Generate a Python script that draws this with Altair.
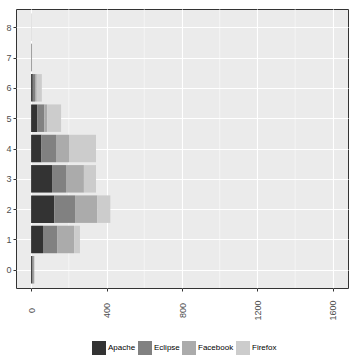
import altair as alt
import pandas as pd

levels = [0, 1, 2, 3, 4, 5, 6, 7, 8]
projects = ["Apache", "Eclipse", "Facebook", "Firefox"]
apache = [6, 63, 123, 111, 55, 32, 9, 2, 0]
eclipse = [8, 75, 110, 74, 77, 38, 12, 2, 0]
facebook = [3, 90, 118, 95, 69, 15, 9, 1, 1]
firefox = [1, 31, 69, 64, 143, 74, 27, 0, 2]
minor_grid = [200, 600, 1000, 1400]
major_ticks = [0, 400, 800, 1200, 1600]
colors = ["#333333", "#818181", "#ABABAB", "#CCCCCC"]

rows = []
series = [apache, eclipse, facebook, firefox]
for p_i, p in enumerate(projects):
    for lv, v in zip(levels, series[p_i]):
        rows.append({"level": lv, "project": p, "count": v, "ord": p_i})
df = pd.DataFrame(rows)
grid_df = pd.DataFrame({"g": minor_grid})

xscale = alt.Scale(domain=[-80, 1680], nice=False, zero=False, padding=0)
yscale = alt.Scale(domain=[-0.6, 8.6], nice=False, zero=False, padding=0)

minor = alt.Chart(grid_df).mark_rule(color="white", strokeWidth=0.5).encode(
    x=alt.X("g:Q", scale=xscale)
)

bars = alt.Chart(df).mark_bar(orient="horizontal", size=27.5, strokeWidth=0).encode(
    x=alt.X("count:Q", stack="zero", scale=xscale, title=None,
            axis=alt.Axis(values=major_ticks, format="d", labelAngle=270,
                          labelAlign="center", labelBaseline="middle",
                          labelPadding=19, grid=True)),
    y=alt.Y("level:Q", scale=yscale, title=None,
            axis=alt.Axis(values=levels, grid=True, labelPadding=2)),
    color=alt.Color("project:N", sort=projects,
                    scale=alt.Scale(domain=projects, range=colors),
                    legend=alt.Legend(title=None, orient="none", direction="horizontal",
                                      legendX=76, legendY=332, symbolType="square",
                                      symbolSize=196, symbolStrokeWidth=0,
                                      symbolOpacity=1, labelFontSize=8,
                                      labelOffset=2, columnPadding=2,
                                      labelFont="Liberation Sans", labelColor="#000000")),
    order=alt.Order("ord:Q"),
)

chart = alt.layer(minor, bars).properties(
    width=332, height=279,
    autosize=alt.AutoSizeParams(type="none"),
    padding={"left": 16, "top": 9, "right": 3, "bottom": 73},
    background="white",
).configure_view(
    fill="#EBEBEB", stroke="#333333", strokeWidth=1
).configure_axis(
    gridColor="white", gridWidth=1.1, domain=False,
    tickColor="#333333", tickSize=3, tickWidth=1,
    labelColor="#4D4D4D", labelFontSize=9, labelFont="Liberation Sans",
)

chart.save("out.html", embed_options={"renderer": "svg", "actions": False})
